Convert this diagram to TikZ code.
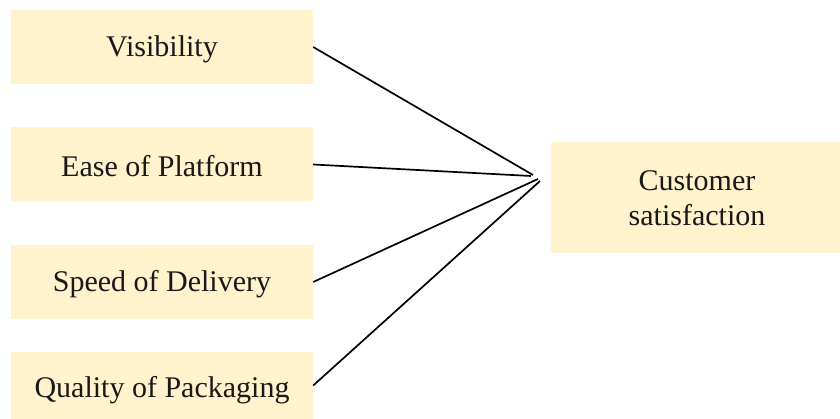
\documentclass[tikz,border=0pt]{standalone}
\usepackage{fontspec}
\setmainfont{Liberation Serif}
\definecolor{boxfill}{HTML}{FFF2CC}
\begin{document}
\begin{tikzpicture}[x=1pt,y=-1pt,
  factor/.style={fill=boxfill,draw=none,minimum width=302pt,minimum height=74pt,inner sep=0pt},
  lbl/.style={font=\fontsize{30}{35}\selectfont,text=black!90,align=center},
  link/.style={line width=1.7pt,black}]
\useasboundingbox (0,0) rectangle (840,419);
\node[factor] (vis) at (162,47) {};
\node[lbl] (visT) at (162,49) {Visibility};
\node[factor] (ease) at (162,164.5) {};
\node[lbl] (easeT) at (162,166) {Ease of Platform};
\node[factor] (speed) at (162,282) {};
\node[lbl] (speedT) at (162,284) {Speed of Delivery};
\node[factor,minimum height=67pt] (qual) at (162,385.5) {};
\node[lbl] (qualT) at (162,390) {Quality of Packaging};
\node[fill=boxfill,minimum width=289pt,minimum height=111pt,inner sep=0pt] (cs) at (695.5,197.5) {};
\node[lbl] (csT) at (697,198) {Customer\\satisfaction};
\coordinate (e1) at (533,175);
\coordinate (e2) at (531,176);
\coordinate (e3) at (538,179);
\coordinate (e4) at (540,181);
\draw[link] (vis.east) -- (e1);
\draw[link] (ease.east) -- (e2);
\draw[link] (speed.east) -- (e3);
\draw[link] (qual.east) -- (e4);
\end{tikzpicture}
\end{document}
